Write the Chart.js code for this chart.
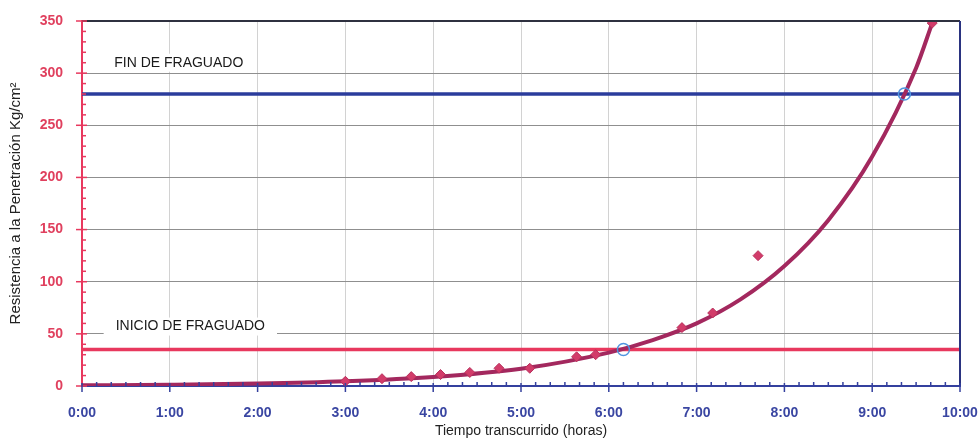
<!DOCTYPE html>
<html lang="es">
<head>
  <meta charset="UTF-8" />
  <title>Resistencia a la Penetración</title>
  <script src="https://cdn.jsdelivr.net/npm/chart.js"></script>
  <style>
    html, body { margin: 0; padding: 0; background: #fff; }
    #chart { display: block; }
  </style>
</head>
<body>
  <canvas id="chart" width="980" height="441"></canvas>

  <script>
    // Ensayo de penetración: tiempo en minutos, resistencia en kg/cm²
    const ensayoMin = [180, 205, 225, 245, 265, 285, 306, 338, 351, 410, 431, 462, 581];
    const ensayoRes = [4.5, 7, 9, 11, 13, 17, 17, 28, 30, 56, 70, 125, 348];

    // Curva de ajuste (leída a lo largo de la tendencia)
    const curvaMin = [0, 60, 120, 180, 240, 300, 360, 390, 420, 450, 480, 510, 540, 570, 581];
    const curvaRes = [0.6, 1.2, 2.3, 4.5, 8.6, 16.5, 32, 44, 60, 83, 115, 159, 220, 305, 348];

    // Límites de fraguado
    const inicioRes = 35;
    const finRes = 280;
    const cortesMin = [370, 562];
    const cortesRes = [inicioRes, finRes];

    const xMax = 600;
    const yMax = 350;

    const toXY = (xs, ys) => xs.map((x, i) => ({ x, y: ys[i] }));

    // Marcas de eje, bordes del área y rótulos de las líneas de fraguado
    const extras = {
      id: 'extras',
      afterDraw(chart) {
        const { ctx, chartArea: a, scales: { x, y } } = chart;
        ctx.save();

        // borde superior y derecho
        ctx.lineWidth = 2;
        ctx.strokeStyle = '#2f3140';
        ctx.beginPath();
        ctx.moveTo(a.left, a.top);
        ctx.lineTo(a.right, a.top);
        ctx.stroke();
        ctx.strokeStyle = '#2a3380';
        ctx.beginPath();
        ctx.moveTo(a.right, a.top);
        ctx.lineTo(a.right, a.bottom);
        ctx.stroke();

        // marcas del eje Y
        ctx.strokeStyle = '#e8385e';
        ctx.lineWidth = 1.5;
        y.ticks.forEach(t => {
          const py = y.getPixelForValue(t.value);
          const major = t.value % 50 === 0;
          ctx.beginPath();
          ctx.moveTo(a.left - (major ? 6 : 0), py);
          ctx.lineTo(a.left + (major ? 5 : 4), py);
          ctx.stroke();
        });

        // marcas del eje X
        ctx.strokeStyle = '#34409e';
        x.ticks.forEach(t => {
          const px = x.getPixelForValue(t.value);
          const major = t.value % 60 === 0;
          ctx.beginPath();
          ctx.moveTo(px, a.bottom - (major ? 3 : 4));
          ctx.lineTo(px, a.bottom + (major ? 6 : 0));
          ctx.stroke();
        });

        // rótulos
        ctx.font = '14px "Liberation Sans", Arial, sans-serif';
        ctx.textBaseline = 'middle';
        ctx.textAlign = 'left';
        [['FIN DE FRAGUADO', 22, 310], ['INICIO DE FRAGUADO', 23, 57]].forEach(([txt, xm, yv]) => {
          const px = x.getPixelForValue(xm);
          const py = y.getPixelForValue(yv);
          const w = ctx.measureText(txt).width;
          ctx.fillStyle = '#fff';
          ctx.fillRect(px - 12, py - 9, w + 24, 18);
          ctx.fillStyle = '#1a1a1a';
          ctx.fillText(txt, px, py);
        });

        ctx.restore();
      }
    };

    new Chart(document.getElementById('chart'), {
      type: 'scatter',
      data: {
        datasets: [
          {
            label: 'Fin de fraguado',
            type: 'line',
            data: toXY([0, xMax], [finRes, finRes]),
            borderColor: '#2b3c9c',
            borderWidth: 3.5,
            pointRadius: 0,
            order: 5
          },
          {
            label: 'Inicio de fraguado',
            type: 'line',
            data: toXY([0, xMax], [inicioRes, inicioRes]),
            borderColor: '#e8385e',
            borderWidth: 3.5,
            pointRadius: 0,
            order: 4
          },
          {
            label: 'Ajuste',
            type: 'line',
            data: toXY(curvaMin, curvaRes),
            borderColor: '#a3285e',
            borderWidth: 4,
            pointRadius: 0,
            cubicInterpolationMode: 'monotone',
            order: 3
          },
          {
            label: 'Ensayo',
            data: toXY(ensayoMin, ensayoRes),
            pointStyle: 'rectRot',
            pointRadius: 5,
            backgroundColor: '#d23c6a',
            borderColor: '#b8305c',
            borderWidth: 1,
            order: 2
          },
          {
            label: 'Cortes',
            data: toXY(cortesMin, cortesRes),
            pointStyle: 'circle',
            pointRadius: 6,
            backgroundColor: 'rgba(0,0,0,0)',
            borderColor: '#4f95e0',
            borderWidth: 1.5,
            order: 1
          }
        ]
      },
      options: {
        responsive: false,
        animation: false,
        layout: { padding: { top: 21, right: 20, left: 0, bottom: 0 }, autoPadding: false },
        plugins: { legend: { display: false }, tooltip: { enabled: false } },
        scales: {
          x: {
            type: 'linear',
            min: 0,
            max: xMax,
            afterFit: s => { s.height = 55; s.paddingLeft = 0; s.paddingRight = 0; },
            ticks: {
              stepSize: 10,
              autoSkip: false,
              maxRotation: 0,
              padding: 19,
              color: '#3a46a2',
              font: { family: '"Liberation Sans", Arial, sans-serif', size: 14, weight: 'bold' },
              callback: v => (v % 60 === 0 ? (v / 60) + ':00' : '')
            },
            grid: {
              drawTicks: false,
              color: c => (c.tick && c.tick.value % 60 === 0 ? '#d2d2d2' : 'rgba(0,0,0,0)'),
              lineWidth: 1
            },
            border: { color: '#34409e', width: 2 },
            title: {
              display: true,
              text: 'Tiempo transcurrido (horas)',
              color: '#222',
              font: { family: '"Liberation Sans", Arial, sans-serif', size: 14 },
              padding: { top: 0, bottom: 1 }
            }
          },
          y: {
            min: 0,
            max: yMax,
            afterFit: s => { s.width = 82; s.paddingTop = 0; s.paddingBottom = 0; },
            ticks: {
              stepSize: 10,
              autoSkip: false,
              padding: 19,
              color: '#e0405e',
              font: { family: '"Liberation Sans", Arial, sans-serif', size: 14, weight: 'bold' },
              callback: v => (v % 50 === 0 ? String(v) : '')
            },
            grid: {
              drawTicks: false,
              color: c => (c.tick && c.tick.value % 50 === 0 ? '#8f8f8f' : 'rgba(0,0,0,0)'),
              lineWidth: 1
            },
            border: { color: '#e8385e', width: 2 },
            title: {
              display: true,
              text: 'Resistencia a la Penetración Kg/cm²',
              color: '#222',
              font: { family: '"Liberation Sans", Arial, sans-serif', size: 15 },
              padding: { top: 7, bottom: 0 }
            }
          }
        }
      },
      plugins: [extras]
    });
  </script>
</body>
</html>
